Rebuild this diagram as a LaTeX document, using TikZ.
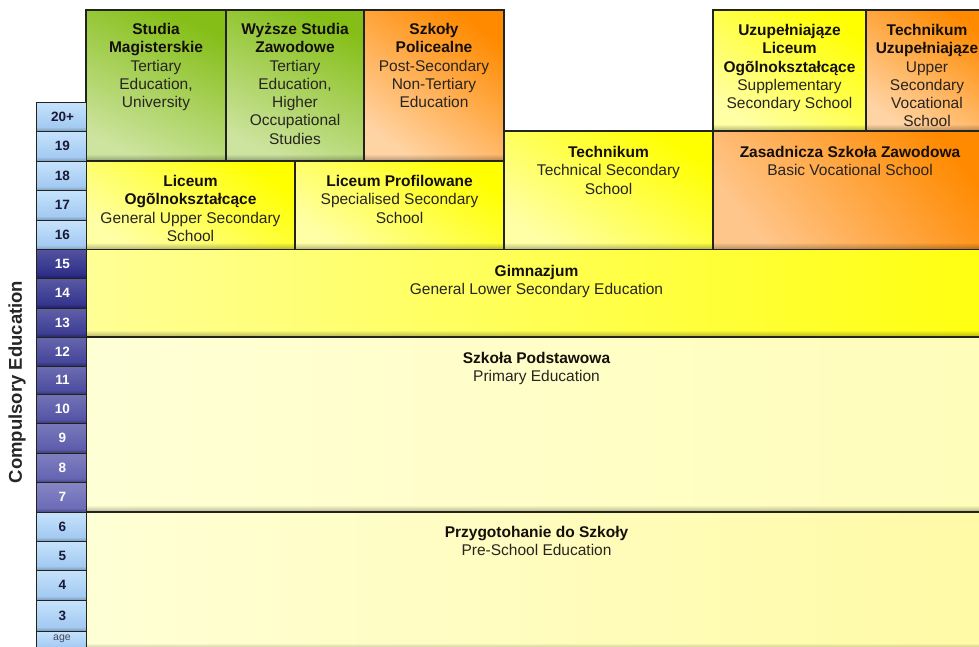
\documentclass[tikz,border=0pt]{standalone}
\usepackage{fontspec}
\setmainfont{Liberation Sans}
\usetikzlibrary{fadings}
\definecolor{grD}{RGB}{132,190,22}
\definecolor{grL}{RGB}{205,228,160}
\definecolor{orD}{RGB}{255,138,0}
\definecolor{orL}{RGB}{255,212,165}
\definecolor{orM}{RGB}{255,198,140}
\definecolor{yeD}{RGB}{255,255,0}
\definecolor{yeL}{RGB}{255,255,165}
\definecolor{gimL}{RGB}{255,255,150}
\definecolor{gimD}{RGB}{255,255,15}
\definecolor{paleA}{RGB}{255,255,214}
\definecolor{paleB}{RGB}{255,253,185}
\definecolor{paleC}{RGB}{255,250,165}
\definecolor{lbA}{RGB}{198,227,252}
\definecolor{lbB}{RGB}{158,198,240}
\definecolor{dkA}{RGB}{104,104,182}
\definecolor{dkB}{RGB}{40,40,134}
\definecolor{bordc}{RGB}{35,35,30}
\definecolor{ttl}{RGB}{20,15,10}
\definecolor{bdy}{RGB}{40,36,32}
\definecolor{agetxt}{RGB}{25,25,55}
\newcommand{\ti}[1]{\textcolor{ttl}{\bfseries #1}}
\newcommand{\edubox}[5]{%
  \path[#5] (#1,#2) rectangle (#3,#4);
  \fill[black, opacity=.3, path fading=north] (#1,#4-7) rectangle (#3,#4);
  \draw[boxline] (#1,#2) rectangle (#3,#4);}
\tikzset{
  x=1pt, y=-1pt,
  boxline/.style={draw=bordc, line width=1.4pt},
  greenbox/.style={top color=grD, bottom color=grL, shading angle=-25},
  orangebox/.style={top color=orD, bottom color=orL, shading angle=-35},
  orangewide/.style={top color=orD, bottom color=orM, shading angle=-50},
  yellowbox/.style={top color=yeD, bottom color=yeL, shading angle=-35},
  gimbox/.style={left color=gimL, right color=gimD},
  podbox/.style={left color=paleA, right color=paleB},
  przbox/.style={left color=paleA, right color=paleC},
  lbl/.style={anchor=north, align=center, inner sep=0pt,
    font=\fontsize{15.5}{18.3}\selectfont, text=bdy},
  agecell/.style={draw=bordc, line width=1pt},
  agetext/.style={inner sep=0pt, font=\bfseries\fontsize{13.5}{13.5}\selectfont},
}
\begin{document}
\begin{tikzpicture}
\useasboundingbox (0,0) rectangle (979,646);
\clip (0,0) rectangle (979,646);
\fill[white] (0,0) rectangle (979,646);

% ---- education boxes ----
\edubox{86}{10}{226}{161}{greenbox}
\edubox{226}{10}{364}{161}{greenbox}
\edubox{364}{10}{504}{161}{orangebox}
\edubox{713}{10}{866}{131}{yellowbox}
\edubox{866}{10}{990}{131}{orangebox}
\edubox{86}{161}{295}{249.5}{yellowbox}
\edubox{295}{161}{504}{249.5}{yellowbox}
\edubox{504}{131}{713}{249.5}{yellowbox}
\edubox{713}{131}{990}{249.5}{orangewide}
\edubox{86}{249.5}{990}{337}{gimbox}
\edubox{86}{337}{990}{512}{podbox}
\edubox{86}{512}{990}{650}{przbox}

% ---- texts ----
\node[lbl] (tStudia) at (156,23) {\ti{Studia}\\\ti{Magisterskie}\\Tertiary\\Education,\\University};
\node[lbl] (tWyzsze) at (295,23) {\ti{Wyższe Studia}\\\ti{Zawodowe}\\Tertiary\\Education,\\Higher\\Occupational\\Studies};
\node[lbl] (tPolic) at (434,23) {\ti{Szkoły}\\\ti{Policealne}\\Post-Secondary\\Non-Tertiary\\Education};
\node[lbl] (tUzLO) at (789.5,24) {\ti{Uzupełniająze}\\\ti{Liceum}\\\ti{Ogõlnokształcące}\\Supplementary\\Secondary School};
\node[lbl] (tTechU) at (927,24) {\ti{Technikum}\\\ti{Uzupełniająze}\\Upper\\Secondary\\Vocational\\School};
\node[lbl] (tLicO) at (190.5,175) {\ti{Liceum}\\\ti{Ogõlnokształcące}\\General Upper Secondary\\School};
\node[lbl] (tLicP) at (399.5,175) {\ti{Liceum Profilowane}\\Specialised Secondary\\School};
\node[lbl] (tTech) at (608.5,146) {\ti{Technikum}\\Technical Secondary\\School};
\node[lbl] (tZas) at (850,146) {\ti{Zasadnicza Szkoła Zawodowa}\\Basic Vocational School};
\node[lbl] (tGim) at (536.5,265) {\ti{Gimnazjum}\\General Lower Secondary Education};
\node[lbl] (tPod) at (536.5,352) {\ti{Szkoła Podstawowa}\\Primary Education};
\node[lbl] (tPrz) at (536.5,526) {\ti{Przygotohanie do Szkoły}\\Pre-School Education};

% ---- age column ----
\foreach \i/\lab/\ya/\yb in {0/20+/102/131, 1/19/131/161, 2/18/161/190.5, 3/17/190.5/220, 4/16/220/249.5,
    14/6/512/541, 15/5/541/570, 16/4/570/600, 17/3/600/631}{
  \path[top color=lbA, bottom color=lbB] (36,\ya) rectangle (86,\yb);
  \fill[black, opacity=.22, path fading=north] (36,\yb-4) rectangle (86,\yb);
  \draw[agecell] (36,\ya) rectangle (86,\yb);
  \node[agetext, text=agetxt] (age\i) at (62.5,{(\ya+\yb)/2}) {\lab};
}
\foreach \i/\lab/\ya/\yb/\p in {5/15/249.5/278.5/0, 6/14/278.5/308/12, 7/13/308/337/25,
    8/12/337/366/38, 9/11/366/394.5/50, 10/10/394.5/423.5/62, 11/9/423.5/453/75,
    12/8/453/482.5/88, 13/7/482.5/512/100}{
  \path[top color=dkA!\p!dkB!80!white, bottom color=dkA!\p!dkB] (36,\ya) rectangle (86,\yb);
  \fill[black, opacity=.3, path fading=north] (36,\yb-4) rectangle (86,\yb);
  \draw[agecell] (36,\ya) rectangle (86,\yb);
  \node[agetext, text=white] (age\i) at (62.5,{(\ya+\yb)/2}) {\lab};
}
\path[top color=lbA, bottom color=lbB] (36,631) rectangle (86,650);
\draw[agecell] (36,631) rectangle (86,650);
\node[inner sep=0pt, font=\fontsize{10.5}{10.5}\selectfont, text=agetxt!80!white] (ageLbl) at (62,638.5) {age};

% ---- side label ----
\node[rotate=90, inner sep=0pt, font=\bfseries\fontsize{18.5}{18.5}\selectfont, text=black!85] (comp) at (17,382) {Compulsory Education};
\end{tikzpicture}
\end{document}
